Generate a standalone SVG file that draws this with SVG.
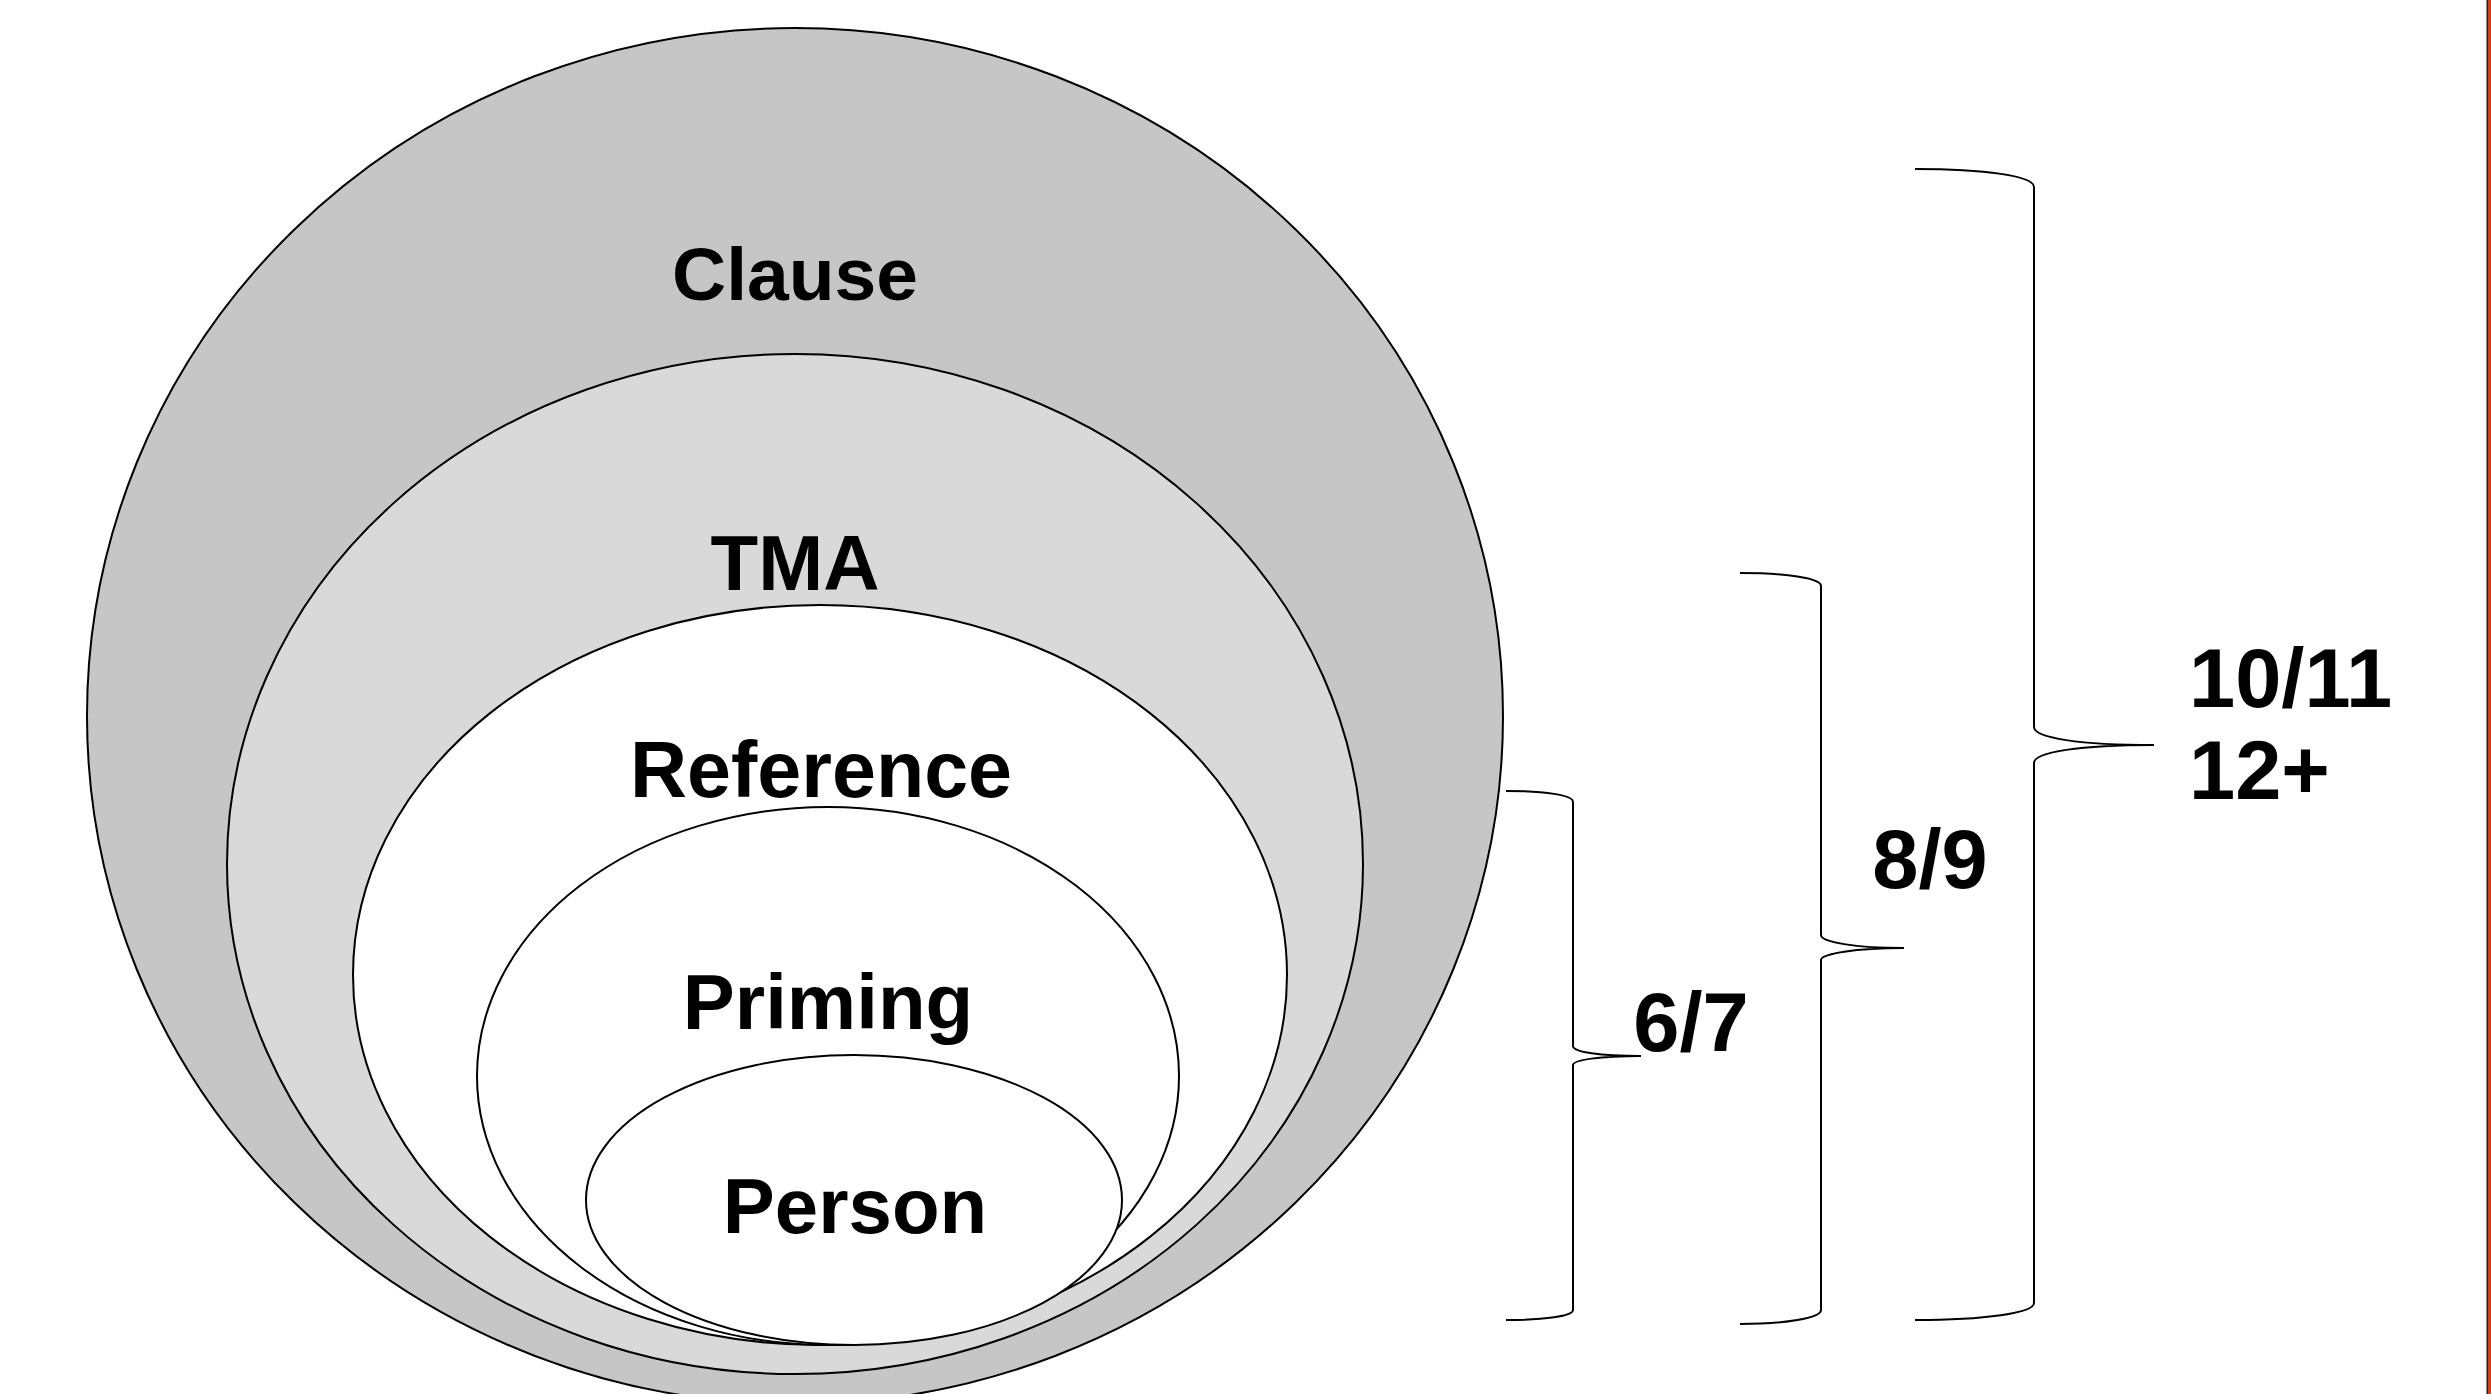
<svg xmlns="http://www.w3.org/2000/svg" width="2491" height="1394" viewBox="0 0 2491 1394">
<style>
.ell{stroke:#000;stroke-width:2}
.lbl{font-family:"Liberation Sans",Arial,sans-serif;font-weight:bold;font-size:78px;fill:#000;text-anchor:middle}
.num{font-family:"Liberation Sans",Arial,sans-serif;font-weight:bold;font-size:83px;fill:#000}
.br{fill:none;stroke:#000;stroke-width:2}
</style>
<rect x="0" y="0" width="2491" height="1394" fill="#fff"/>
<g id="clause">
<ellipse class="ell" cx="795" cy="716" rx="708" ry="688" fill="#c6c6c6"/>
<text class="lbl" x="795" y="300" style="font-size:75px">Clause</text>
</g>
<g id="tma">
<ellipse class="ell" cx="795" cy="864" rx="568" ry="510" fill="#d9d9d9"/>
<text class="lbl" x="795" y="590">TMA</text>
</g>
<g id="reference">
<ellipse class="ell" cx="820" cy="975" rx="467" ry="370" fill="#fff"/>
<text class="lbl" x="821" y="797" style="font-size:79px">Reference</text>
</g>
<g id="priming">
<ellipse class="ell" cx="828" cy="1076" rx="351" ry="269" fill="#fff"/>
<text class="lbl" x="828" y="1029">Priming</text>
</g>
<g id="person">
<ellipse class="ell" cx="854" cy="1200" rx="268" ry="145" fill="#fff"/>
<text class="lbl" x="855" y="1233">Person</text>
</g>
<g id="connectors">
<path class="br" d="M1506,791 C1545,791 1573,795 1573,802 L1573,1046 C1573,1052 1600,1056 1641,1056 C1600,1056 1573,1060 1573,1065 L1573,1310 C1573,1316 1545,1320 1506,1320"/>
<path class="br" d="M1740,573 C1785,573 1821,578 1821,586 L1821,935 C1821,942 1855,948 1904,948 C1855,948 1821,954 1821,960 L1821,1310 C1821,1318 1785,1324 1740,1324"/>
<path class="br" d="M1915,169 C1985,169 2034,176 2034,187 L2034,727 C2034,738 2080,745 2154,745 C2080,745 2034,752 2034,763 L2034,1303 C2034,1313 1985,1320 1915,1320"/>
</g>
<g id="labels">
<text class="num" x="1691" y="1051" text-anchor="middle">6/7</text>
<text class="num" x="1930" y="888" text-anchor="middle">8/9</text>
<text class="num" x="2189" y="707">10/11</text>
<text class="num" x="2189" y="799">12+</text>
</g>
<rect x="2486" y="0" width="1" height="1394" fill="#8a8a8a"/>
<rect x="2487" y="0" width="1" height="1394" fill="#222"/>
<rect x="2488" y="0" width="3" height="1394" fill="#e0381a"/>
</svg>
